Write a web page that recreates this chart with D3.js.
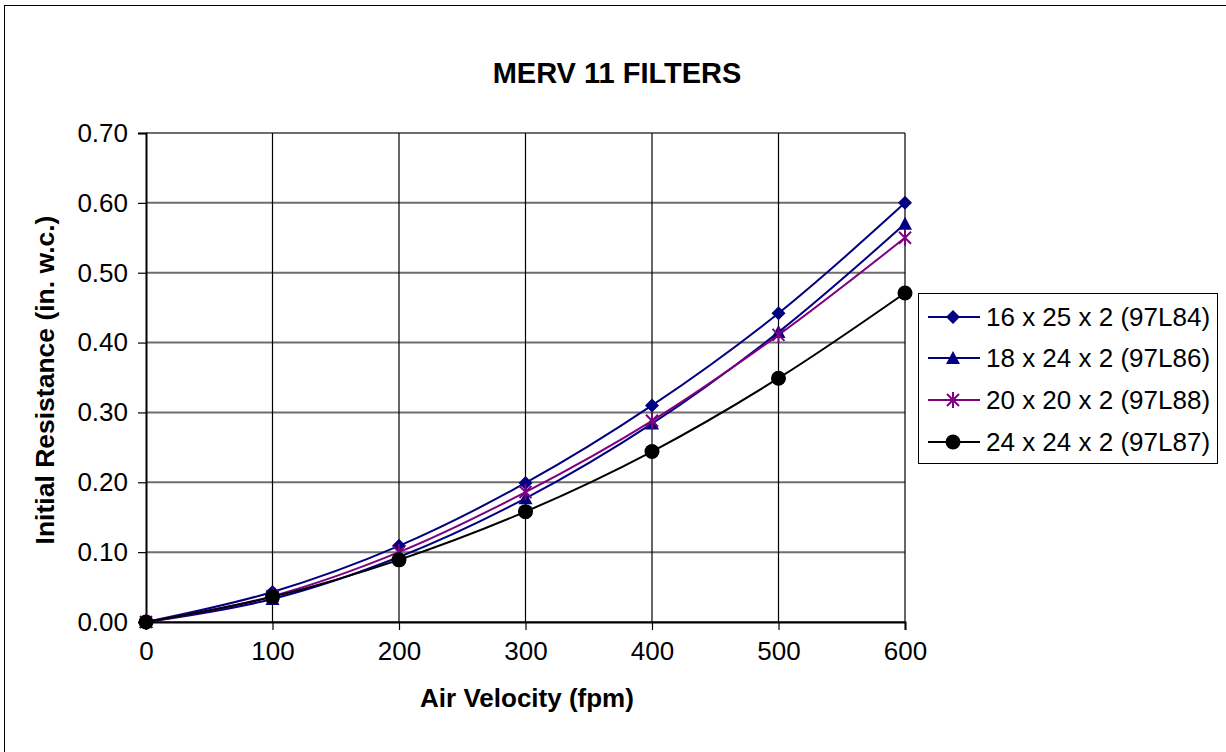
<!DOCTYPE html>
<html>
<head>
<meta charset="utf-8">
<script src="https://cdn.jsdelivr.net/npm/d3@7"></script>
<style>
  body { margin: 0; background: #fff; }
  text { font-family: Arial, "Liberation Sans", sans-serif; }
</style>
</head>
<body>
<div id="chart"></div>
<script>
// Data
var velocities = [0, 100, 200, 300, 400, 500, 600];
var seriesNames = ["16 x 25 x 2 (97L84)", "18 x 24 x 2 (97L86)", "20 x 20 x 2 (97L88)", "24 x 24 x 2 (97L87)"];
var s97L84 = [0, 0.043, 0.109, 0.199, 0.310, 0.442, 0.600];
var s97L86 = [0, 0.033, 0.093, 0.177, 0.284, 0.415, 0.570];
var s97L88 = [0, 0.037, 0.100, 0.186, 0.288, 0.411, 0.550];
var s97L87 = [0, 0.036, 0.089, 0.158, 0.244, 0.349, 0.471];
var yTicks = [0, 0.1, 0.2, 0.3, 0.4, 0.5, 0.6, 0.7];
var xTicks = [0, 100, 200, 300, 400, 500, 600];

var series = [
    {"name": seriesNames[0], "v": s97L84, "c": "#000080", "m": "diamond"},
    {"name": seriesNames[1], "v": s97L86, "c": "#000080", "m": "triangle"},
    {"name": seriesNames[2], "v": s97L88, "c": "#800080", "m": "star"},
    {"name": seriesNames[3], "v": s97L87, "c": "#000000", "m": "circle"}
];

var svg = d3.select("#chart")
    .append("svg")
    .attr("width", 1226)
    .attr("height", 752);

// outer chart border (only top/left visible in frame)
svg.append("rect")
    .attr("x", 4.5)
    .attr("y", 5.5)
    .attr("width", 1240)
    .attr("height", 760)
    .attr("fill", "#fff")
    .attr("stroke", "#000")
    .attr("stroke-width", 1);

var x = d3.scaleLinear().domain([0, 600]).range([146, 905]);
var y = d3.scaleLinear().domain([0, 0.7]).range([622, 133]);

// horizontal gridlines
svg.selectAll("line.hgrid")
    .data(yTicks)
    .enter()
    .append("line")
    .attr("class", "hgrid")
    .attr("x1", 146)
    .attr("x2", 905)
    .attr("y1", function(d) { return y(d); })
    .attr("y2", function(d) { return y(d); })
    .attr("stroke", "#6e6e6e")
    .attr("stroke-width", 2);

// vertical gridlines
svg.selectAll("line.vgrid")
    .data(xTicks.slice(1))
    .enter()
    .append("line")
    .attr("class", "vgrid")
    .attr("x1", function(d) { return x(d); })
    .attr("x2", function(d) { return x(d); })
    .attr("y1", 133)
    .attr("y2", 622)
    .attr("stroke", "#000")
    .attr("stroke-width", 1.2);

// axes
var yAxis = d3.axisLeft(y)
    .tickValues(yTicks)
    .tickFormat(d3.format(".2f"))
    .tickSize(8)
    .tickPadding(10);
var gy = svg.append("g")
    .attr("transform", "translate(146,0)")
    .call(yAxis);

var xAxis = d3.axisBottom(x)
    .tickValues(xTicks)
    .tickSize(8)
    .tickPadding(12);
var gx = svg.append("g")
    .attr("transform", "translate(0,622)")
    .call(xAxis);

[gx, gy].forEach(function(g) {
    g.select(".domain").attr("stroke", "#000").attr("stroke-width", 2);
    g.selectAll(".tick line").attr("stroke", "#000").attr("stroke-width", 1.2);
    g.selectAll(".tick text")
        .attr("fill", "#000")
        .style("font-size", "26px")
        .style("font-family", "Arial, 'Liberation Sans', sans-serif");
});

// lines
var lineFunction = d3.line()
    .x(function(d, i) { return x(velocities[i]); })
    .y(function(d) { return y(d); })
    .curve(d3.curveCatmullRom);

svg.selectAll("path.series")
    .data(series)
    .enter()
    .append("path")
    .attr("class", "series")
    .attr("d", function(d) { return lineFunction(d.v); })
    .attr("stroke", function(d) { return d.c; })
    .attr("stroke-width", 2)
    .attr("fill", "none");

function drawMarker(g, type, color) {
    if (type === "diamond") {
        g.append("path")
            .attr("d", "M0,-7L7,0L0,7L-7,0Z")
            .attr("fill", color);
    } else if (type === "triangle") {
        g.append("path")
            .attr("d", "M0,-7L7,6L-7,6Z")
            .attr("fill", color);
    } else if (type === "star") {
        g.append("path")
            .attr("d", "M-6,-6L6,6M-6,6L6,-6M0,-8L0,8")
            .attr("stroke", color)
            .attr("stroke-width", 2)
            .attr("fill", "none");
    } else {
        g.append("circle")
            .attr("r", 7.5)
            .attr("fill", color);
    }
}

series.forEach(function(s) {
    s.v.forEach(function(v, i) {
        var g = svg.append("g")
            .attr("transform", "translate(" + x(velocities[i]) + "," + y(v) + ")");
        drawMarker(g, s.m, s.c);
    });
});

// title
svg.append("text")
    .attr("x", 617)
    .attr("y", 83)
    .attr("text-anchor", "middle")
    .style("font-size", "29px")
    .style("font-weight", "bold")
    .text("MERV 11 FILTERS");

svg.append("text")
    .attr("x", 527)
    .attr("y", 707)
    .attr("text-anchor", "middle")
    .style("font-size", "26px")
    .style("font-weight", "bold")
    .text("Air Velocity (fpm)");

svg.append("text")
    .attr("transform", "translate(54,380) rotate(-90)")
    .attr("text-anchor", "middle")
    .style("font-size", "26.5px")
    .style("font-weight", "bold")
    .text("Initial Resistance (in. w.c.)");

// legend
var legend = svg.append("g");
legend.append("rect")
    .attr("x", 918.5)
    .attr("y", 293.5)
    .attr("width", 299)
    .attr("height", 170)
    .attr("fill", "#fff")
    .attr("stroke", "#000")
    .attr("stroke-width", 1);

var rowY = [317, 358, 400, 442];
series.forEach(function(s, i) {
    legend.append("line")
        .attr("x1", 928)
        .attr("x2", 980)
        .attr("y1", rowY[i])
        .attr("y2", rowY[i])
        .attr("stroke", s.c)
        .attr("stroke-width", 2);
    var g = legend.append("g")
        .attr("transform", "translate(953," + rowY[i] + ")");
    drawMarker(g, s.m, s.c);
    legend.append("text")
        .attr("x", 986)
        .attr("y", rowY[i] + 9)
        .style("font-size", "26px")
        .text(s.name);
});
</script>
</body>
</html>
